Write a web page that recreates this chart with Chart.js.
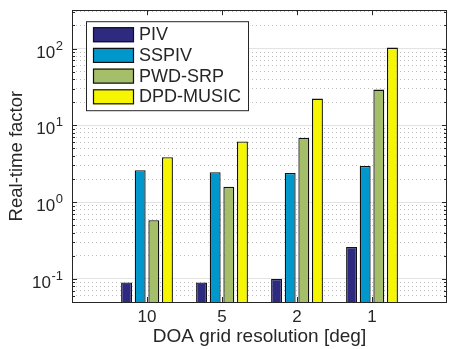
<!DOCTYPE html>
<html>
<head>
<meta charset="utf-8">
<script src="https://cdn.jsdelivr.net/npm/chart.js@4.4.1/dist/chart.umd.min.js"></script>
<style>
  html, body { margin: 0; padding: 0; background: #fff; }
  #wrap { width: 452px; height: 349px; position: relative; }
</style>
</head>
<body>
<div id="wrap"><canvas id="chart"></canvas></div>
<script>
const categories = ['10', '5', '2', '1'];
const seriesNames = ['PIV', 'SSPIV', 'PWD-SRP', 'DPD-MUSIC'];
const piv = [0.09, 0.09, 0.10, 0.26];
const sspiv = [2.6, 2.45, 2.4, 2.95];
const pwdSrp = [0.58, 1.58, 6.9, 29.2];
const dpdMusic = [3.85, 6.15, 22.3, 103];
const yDecades = [-1, 0, 1, 2];
const seriesColors = ['#2e2a7f', '#0098cc', '#a5be6a', '#f6f600'];

const FONT = "'Liberation Sans', Arial, Helvetica, sans-serif";
const AXIS_COLOR = '#262626';

// pad categories so the groups sit at 1..4 of a 0..5 axis, like matlab
const labels = ['', ...categories, ''];
const pad = arr => [null, ...arr, null];

// all log ticks (1..9 per decade) between the limits
function logTicks(min, max) {
  const out = [];
  for (let e = -2; e <= 3; e++) {
    for (let m = 1; m <= 9; m++) {
      const v = m * Math.pow(10, e);
      if (v >= min * 0.999 && v <= max * 1.001) out.push({ value: v });
    }
  }
  return out;
}
const isMajor = v => Math.abs(Math.log10(v) - Math.round(Math.log10(v))) < 1e-6;

const boxPlugin = {
  id: 'box',
  afterDraw(chart) {
    const { ctx, chartArea: a, scales } = chart;
    ctx.save();
    ctx.strokeStyle = AXIS_COLOR;
    ctx.lineWidth = 1;
    ctx.beginPath();
    // inward tick marks
    scales.y.ticks.forEach(t => {
      const y = Math.round(scales.y.getPixelForValue(t.value)) + 0.5;
      const len = isMajor(t.value) ? 5 : 3;
      ctx.moveTo(a.left, y); ctx.lineTo(a.left + len, y);
      ctx.moveTo(a.right, y); ctx.lineTo(a.right - len, y);
    });
    categories.forEach((c, i) => {
      const x = Math.round(scales.x.getPixelForValue(i + 1)) + 0.5;
      ctx.moveTo(x, a.bottom); ctx.lineTo(x, a.bottom - 5);
      ctx.moveTo(x, a.top); ctx.lineTo(x, a.top + 5);
    });
    ctx.stroke();
    ctx.strokeRect(Math.round(a.left) + 0.5, Math.round(a.top) + 0.5,
      Math.round(a.right - a.left) - 1, Math.round(a.bottom - a.top));

    // y tick labels as 10^e
    ctx.fillStyle = AXIS_COLOR;
    ctx.textBaseline = 'alphabetic';
    yDecades.forEach(e => {
      const y = scales.y.getPixelForValue(Math.pow(10, e));
      const right = a.left - 9;
      ctx.font = '13px ' + FONT;
      ctx.textAlign = 'right';
      const exp = String(e);
      ctx.fillText(exp, right, y + 1);
      const ew = ctx.measureText(exp).width;
      ctx.font = '17px ' + FONT;
      ctx.fillText('10', right - ew - 0.5, y + 9);
    });

    // legend box
    const lx = a.left + 14, ly = a.top + 11, lw = 162, lh = 89;
    ctx.fillStyle = '#fff';
    ctx.fillRect(lx, ly, lw, lh);
    ctx.strokeStyle = AXIS_COLOR;
    ctx.strokeRect(lx + 0.5, ly + 0.5, lw, lh);
    ctx.font = '18px ' + FONT;
    ctx.textAlign = 'left';
    ctx.textBaseline = 'middle';
    chart.data.datasets.forEach((ds, i) => {
      const ry = ly + 6 + i * 20.7;
      ctx.fillStyle = ds.backgroundColor;
      ctx.fillRect(lx + 7, ry, 41, 15);
      ctx.strokeStyle = '#111';
      ctx.lineWidth = 1.2;
      ctx.strokeRect(lx + 7.5, ry + 0.5, 40, 14);
      ctx.fillStyle = AXIS_COLOR;
      ctx.fillText(ds.label, lx + 53, ry + 8);
    });
    ctx.restore();
  }
};

const seriesData = [piv, sspiv, pwdSrp, dpdMusic];

new Chart(document.getElementById('chart'), {
  type: 'bar',
  data: {
    labels: labels,
    datasets: seriesNames.map((name, i) => ({
      label: name,
      data: pad(seriesData[i]),
      backgroundColor: seriesColors[i],
      borderColor: '#111',
      borderWidth: 1.3,
      borderSkipped: 'start',
      categoryPercentage: 4 / 5.5,
      barPercentage: 0.8
    }))
  },
  options: {
    responsive: true,
    maintainAspectRatio: false,
    animation: false,
    layout: { padding: { top: 9, right: 2, left: 0, bottom: 0 } },
    plugins: {
      legend: { display: false },
      tooltip: { enabled: false }
    },
    scales: {
      x: {
        type: 'category',
        offset: false,
        grid: { display: false, drawTicks: false, offset: false },
        border: { display: false },
        ticks: {
          autoSkip: false,
          maxRotation: 0,
          padding: 5,
          color: AXIS_COLOR,
          font: { family: FONT, size: 17 }
        },
        title: {
          display: true,
          text: 'DOA grid resolution [deg]',
          color: AXIS_COLOR,
          font: { family: FONT, size: 19 },
          padding: { top: 0, bottom: 1 }
        },
        afterFit(scale) { scale.height = 47; }
      },
      y: {
        type: 'logarithmic',
        min: 0.05,
        max: 316,
        afterBuildTicks(scale) { scale.ticks = logTicks(0.05, 316); },
        grid: {
          drawTicks: false,
          color: ctx => ctx.tick && isMajor(ctx.tick.value) ? '#e3e3e3' : '#bdbdbd',
          lineWidth: 1
        },
        border: {
          display: false,
          dash: ctx => ctx.tick && !isMajor(ctx.tick.value) ? [1, 3] : []
        },
        ticks: {
          callback: () => '',
          autoSkip: false
        },
        title: {
          display: true,
          text: 'Real-time factor',
          color: AXIS_COLOR,
          font: { family: FONT, size: 18.5 },
          padding: { top: 6, bottom: 0 }
        },
        afterFit(scale) { scale.width = 72; }
      }
    }
  },
  plugins: [boxPlugin]
});
</script>
</body>
</html>
